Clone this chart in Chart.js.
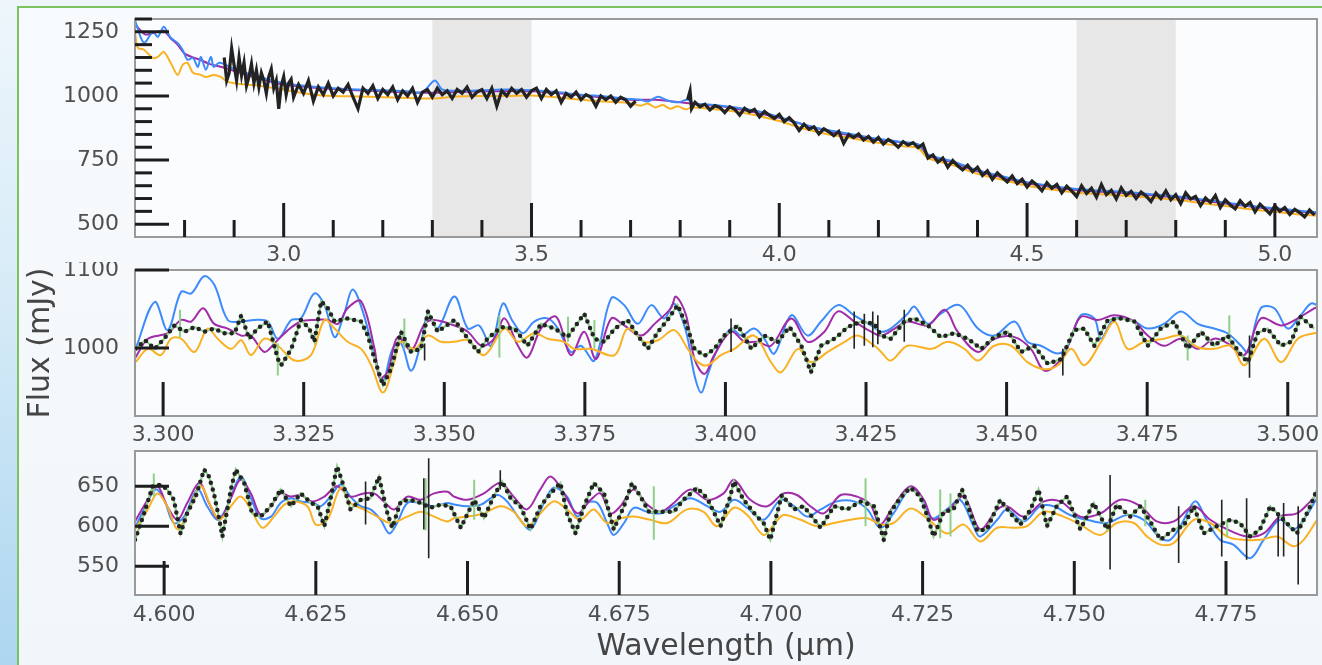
<!DOCTYPE html>
<html><head><meta charset="utf-8">
<script src="https://cdn.jsdelivr.net/npm/chart.js"></script>
<style>
html,body{margin:0;padding:0;}
body{width:1322px;height:665px;overflow:hidden;position:relative;background:linear-gradient(180deg,#eef6fb 0%,#d6ebf7 45%,#acd6f0 100%);}
#frame{position:absolute;left:17px;top:6px;width:1400px;height:700px;border:2px solid #7cc25e;background:linear-gradient(180deg,#f8fbfd,#f1f6fa);box-sizing:border-box;}
canvas{position:absolute;left:0;}
</style></head><body>
<div id="frame"></div>
<canvas id="c1" width="1322" height="268" style="top:0px"></canvas>
<canvas id="c2" width="1322" height="192" style="top:262px"></canvas>
<canvas id="c3" width="1322" height="220" style="top:445px"></canvas>
<script>
// ---------------- DATA ----------------
// Panel 1 (full spectrum)
const shaded1 = [[3.3, 3.5], [4.6, 4.8]];
const x1Ticks = [3.0, 3.5, 4.0, 4.5, 5.0];
const x1Minor = [2.8, 2.9, 3.1, 3.2, 3.3, 3.4, 3.6, 3.7, 3.8, 3.9, 4.1, 4.2, 4.3, 4.4, 4.6, 4.7, 4.8, 4.9];
const y1Ticks = [500, 750, 1000, 1250];
const y1Minor = [550, 600, 650, 700, 800, 850, 900, 950, 1050, 1100, 1150, 1200, 1300];

const blue1 = [[2.70,1295],[2.718,1207],[2.736,1250],[2.746,1230],[2.758,1270],[2.772,1227],[2.786,1207],[2.796,1180],[2.806,1141],[2.817,1148],[2.827,1113],[2.833,1152],[2.843,1102],[2.853,1152],[2.859,1113],[2.869,1129],[2.879,1125],[2.90,1105],[2.95,1075],[3.00,1050],[3.05,1038],[3.10,1030],[3.15,1025],[3.20,1022],[3.25,1018],[3.28,1015],[3.305,1060],[3.32,1025],[3.35,1020],[3.40,1022],[3.45,1025],[3.50,1022],[3.55,1015],[3.60,1005],[3.65,998],[3.70,988],[3.72,985],[3.735,978],[3.755,997],[3.775,982],[3.795,975],[3.815,985],[3.83,968],[3.85,968],[3.90,958],[3.95,943],[4.00,918],[4.05,888],[4.10,866],[4.15,850],[4.20,833],[4.25,820],[4.28,812],[4.30,772],[4.35,745],[4.40,710],[4.45,687],[4.50,664],[4.55,649],[4.60,637],[4.65,631],[4.70,625],[4.75,617],[4.80,609],[4.85,597],[4.90,585],[4.95,572],[5.00,562],[5.05,552],[5.085,547]];
const purple1 = [[2.70,1280],[2.72,1240],[2.736,1245],[2.746,1250],[2.758,1255],[2.772,1225],[2.786,1200],[2.80,1165],[2.817,1150],[2.833,1140],[2.85,1125],[2.88,1110],[2.95,1068],[3.00,1045],[3.10,1027],[3.20,1018],[3.30,1012],[3.40,1018],[3.50,1018],[3.60,1002],[3.70,985],[3.75,985],[3.80,975],[3.85,965],[3.90,955],[4.00,915],[4.10,862],[4.20,828],[4.28,808],[4.30,768],[4.35,741],[4.40,706],[4.45,683],[4.50,660],[4.60,633],[4.70,621],[4.80,605],[4.90,581],[5.00,558],[5.085,543]];
const orange1 = [[2.70,1246],[2.706,1187],[2.718,1180],[2.736,1148],[2.746,1152],[2.758,1172],[2.772,1129],[2.786,1082],[2.796,1121],[2.806,1129],[2.817,1090],[2.833,1082],[2.843,1074],[2.859,1082],[2.873,1074],[2.887,1055],[2.92,1045],[2.95,1040],[3.00,1025],[3.05,1008],[3.10,1000],[3.15,998],[3.20,995],[3.25,992],[3.30,990],[3.35,998],[3.40,1000],[3.45,1000],[3.50,1002],[3.55,995],[3.60,985],[3.65,978],[3.70,972],[3.72,962],[3.735,970],[3.75,955],[3.765,965],[3.78,950],[3.795,960],[3.81,948],[3.825,955],[3.85,952],[3.90,942],[3.95,926],[4.00,902],[4.05,872],[4.10,850],[4.15,834],[4.20,817],[4.25,804],[4.28,797],[4.30,758],[4.35,731],[4.40,696],[4.45,673],[4.50,650],[4.55,635],[4.60,623],[4.65,617],[4.70,611],[4.75,603],[4.80,595],[4.85,583],[4.90,571],[4.95,558],[5.00,548],[5.05,538],[5.085,533]];
const black1a = [[2.88,1150],[2.885,1060],[2.89,1090],[2.895,1185],[2.90,1120],[2.905,1060],[2.91,1150],[2.915,1080],[2.92,1130],[2.925,1040],[2.93,1075],[2.935,1125],[2.94,1050],[2.945,1100],[2.95,1035],[2.955,1090],[2.96,1060],[2.965,1010],[2.97,1075],[2.975,1105],[2.98,1030],[2.985,1060],[2.99,950],[2.995,1040],[3.00,1075],[3.005,1005],[3.01,1050],[3.015,1065],[3.02,995],[3.03,1045],[3.04,1010],[3.05,1060],[3.06,980],[3.07,1035],[3.08,1005],[3.09,1050],[3.10,1000],[3.11,1030],[3.12,1015],[3.13,1045],[3.14,995],[3.15,950],[3.16,1030],[3.17,1010],[3.18,1040],[3.19,990],[3.20,1025],[3.21,1005],[3.22,1035],[3.23,985],[3.24,1020],[3.25,1000],[3.26,1030],[3.27,975],[3.28,1015],[3.29,1025],[3.30,995],[3.31,1030],[3.32,1005],[3.33,1020],[3.34,990],[3.35,1025],[3.36,1010],[3.37,1035],[3.38,995],[3.39,1015],[3.40,1025],[3.41,990],[3.42,1030],[3.43,960],[3.44,1020],[3.45,1000],[3.46,1030],[3.47,1010],[3.48,1025],[3.49,995],[3.50,1020],[3.51,1030],[3.52,990],[3.53,1025],[3.54,1005],[3.55,1020],[3.56,975],[3.57,1010],[3.58,995],[3.59,1015],[3.60,985],[3.61,1005],[3.62,995],[3.63,960],[3.64,1000],[3.65,985],[3.66,1000],[3.67,975],[3.68,995],[3.69,985],[3.70,960],[3.71,980]];
const black1b = [[3.815,985],[3.82,1020],[3.823,950],[3.83,975],[3.84,958],[3.85,968],[3.86,945],[3.87,962],[3.88,955],[3.89,935],[3.90,958],[3.91,948],[3.92,925],[3.93,952],[3.94,938],[3.95,948],[3.96,918],[3.97,940],[3.98,925],[3.99,912],[4.00,928],[4.01,900],[4.02,915],[4.03,895],[4.04,865],[4.05,890],[4.06,870],[4.07,880],[4.08,852],[4.09,872],[4.10,860],[4.11,845],[4.12,862],[4.13,815],[4.14,850],[4.15,838],[4.16,852],[4.17,828],[4.18,842],[4.19,820],[4.20,838],[4.21,812],[4.22,830],[4.23,818],[4.24,800],[4.25,822],[4.26,808],[4.27,818],[4.28,798],[4.29,812],[4.30,758],[4.31,770],[4.32,742],[4.33,758],[4.34,722],[4.35,748],[4.36,728],[4.37,712],[4.38,730],[4.39,705],[4.40,722],[4.41,690],[4.42,708],[4.43,675],[4.44,700],[4.45,682],[4.46,665],[4.47,688],[4.48,658],[4.49,675],[4.50,645],[4.51,668],[4.52,652],[4.53,630],[4.54,662],[4.55,640],[4.56,655],[4.57,622],[4.58,648],[4.59,630],[4.60,608],[4.61,650],[4.62,620],[4.63,640],[4.64,605],[4.65,655],[4.66,615],[4.67,632],[4.68,598],[4.69,642],[4.70,612],[4.71,628],[4.72,600],[4.73,625],[4.74,610],[4.75,588],[4.76,622],[4.77,600],[4.78,630],[4.79,595],[4.80,615],[4.81,580],[4.82,622],[4.83,598],[4.84,608],[4.85,572],[4.86,602],[4.87,585],[4.88,612],[4.89,565],[4.90,595],[4.91,575],[4.92,560],[4.93,592],[4.94,570],[4.95,585],[4.96,548],[4.97,578],[4.98,560],[4.99,540],[5.00,572],[5.01,550],[5.02,565],[5.03,538],[5.04,558],[5.05,545],[5.06,528],[5.07,555],[5.08,535]];

// Panel 2 (3.30 - 3.50 um)
const x2Ticks = [3.300, 3.325, 3.350, 3.375, 3.400, 3.425, 3.450, 3.475, 3.500];
const y2Ticks = [1000, 1100];
const blue2 = [[3.2951,999],[3.2985,1059],[3.3008,1023],[3.3032,1072],[3.3050,1070],[3.3073,1092],[3.3091,1081],[3.3115,1036],[3.3139,1034],[3.3162,1036],[3.3186,1034],[3.3204,1012],[3.3228,1036],[3.3245,1038],[3.3269,1070],[3.3287,1055],[3.3305,1014],[3.3322,1044],[3.3337,1075],[3.3355,1047],[3.3376,990],[3.3391,958],[3.3408,999],[3.3423,1006],[3.3441,971],[3.3459,1008],[3.3471,1044],[3.3488,1025],[3.3518,1066],[3.3542,1025],[3.3562,1029],[3.3583,1003],[3.3604,1057],[3.3622,1034],[3.3640,1019],[3.3660,1034],[3.3684,1038],[3.3702,1025],[3.3725,995],[3.3743,1003],[3.3767,984],[3.3797,1064],[3.3820,1055],[3.3844,1031],[3.3868,1055],[3.3891,1038],[3.3909,1057],[3.3930,1021],[3.3945,965],[3.3957,943],[3.3968,965],[3.3986,999],[3.4010,1025],[3.4028,1016],[3.4051,1025],[3.4069,1012],[3.4087,993],[3.4117,1042],[3.4146,1016],[3.4170,1034],[3.4200,1055],[3.4229,1042],[3.4259,1029],[3.4277,1021],[3.4294,1025],[3.4324,1044],[3.4336,1053],[3.4360,1031],[3.4383,1044],[3.4416,1055],[3.4449,1025],[3.4478,1016],[3.4514,1034],[3.4537,1008],[3.4561,1003],[3.4591,993],[3.4609,1003],[3.4632,1042],[3.4656,1038],[3.4668,1012],[3.4692,1038],[3.4727,1034],[3.4751,1025],[3.4780,1031],[3.4810,1047],[3.4840,1031],[3.4869,1025],[3.4893,1019],[3.4917,1003],[3.4929,995],[3.4952,1051],[3.4976,1051],[3.5000,1025],[3.5023,1042],[3.5041,1057],[3.5053,1055]];
const purple2 = [[3.2951,988],[3.2973,1012],[3.3008,1019],[3.3032,1036],[3.3050,1034],[3.3071,1051],[3.3091,1031],[3.3115,1025],[3.3139,1016],[3.3156,1016],[3.3180,995],[3.3198,1006],[3.3222,1023],[3.3245,1034],[3.3269,1036],[3.3293,1036],[3.3311,1031],[3.3328,1051],[3.3352,1060],[3.3376,999],[3.3385,962],[3.3399,969],[3.3417,1014],[3.3441,997],[3.3465,1031],[3.3482,1036],[3.3518,1029],[3.3542,1021],[3.3566,1003],[3.3589,1012],[3.3607,1038],[3.3631,1003],[3.3648,988],[3.3672,1025],[3.3699,1040],[3.3725,991],[3.3749,1021],[3.3770,986],[3.3797,1038],[3.3820,1029],[3.3850,1016],[3.3874,1031],[3.3903,1051],[3.3912,1066],[3.3930,1042],[3.3945,986],[3.3963,967],[3.3980,991],[3.4010,1021],[3.4034,1008],[3.4057,1008],[3.4081,1003],[3.4117,1038],[3.4146,1008],[3.4176,1021],[3.4200,1047],[3.4229,1034],[3.4259,1021],[3.4277,1016],[3.4301,1025],[3.4324,1034],[3.4360,1029],[3.4390,1049],[3.4413,1021],[3.4449,995],[3.4478,1012],[3.4514,1014],[3.4543,999],[3.4567,971],[3.4591,981],[3.4609,1003],[3.4632,1040],[3.4662,1036],[3.4692,1042],[3.4727,1034],[3.4751,1016],[3.4780,1003],[3.4810,1012],[3.4840,999],[3.4869,1012],[3.4893,1006],[3.4923,991],[3.4952,1038],[3.4988,1029],[3.5018,1038],[3.5047,1051],[3.5053,1052]];
const orange2 = [[3.2951,982],[3.2973,999],[3.2996,991],[3.3014,1012],[3.3032,1012],[3.3056,995],[3.3079,1025],[3.3097,1012],[3.3121,999],[3.3139,1010],[3.3156,991],[3.3180,1012],[3.3204,1003],[3.3234,984],[3.3263,991],[3.3287,1036],[3.3305,1025],[3.3328,1008],[3.3352,999],[3.3370,978],[3.3391,943],[3.3411,982],[3.3423,1008],[3.3447,999],[3.3471,1016],[3.3494,1008],[3.3518,1008],[3.3542,1010],[3.3571,991],[3.3607,1025],[3.3631,1008],[3.3660,1019],[3.3684,1012],[3.3713,1008],[3.3731,999],[3.3761,999],[3.3803,991],[3.3826,1025],[3.3856,1008],[3.3880,1010],[3.3909,1023],[3.3933,999],[3.3951,982],[3.3968,978],[3.3992,991],[3.4016,999],[3.4051,1016],[3.4081,982],[3.4099,969],[3.4129,999],[3.4152,982],[3.4182,995],[3.4212,1008],[3.4235,1016],[3.4265,1003],[3.4277,995],[3.4294,984],[3.4324,1003],[3.4366,999],[3.4396,1008],[3.4425,999],[3.4449,984],[3.4478,1003],[3.4508,1003],[3.4537,982],[3.4567,973],[3.4591,978],[3.4615,999],[3.4638,978],[3.4668,1008],[3.4692,1034],[3.4715,999],[3.4745,1008],[3.4780,1012],[3.4810,1016],[3.4840,1001],[3.4869,999],[3.4899,1003],[3.4923,978],[3.4958,1012],[3.4988,982],[3.5018,1012],[3.5047,1019],[3.5053,1019]];
const data2 = [[3.2951,999],[3.2968,1010],[3.2985,999],[3.3002,1012],[3.3020,1029],[3.3038,1021],[3.3056,1027],[3.3073,1021],[3.3091,1025],[3.3109,1019],[3.3127,1019],[3.3139,1042],[3.3153,1012],[3.3168,1025],[3.3186,1034],[3.3204,986],[3.3210,978],[3.3228,999],[3.3245,1036],[3.3260,1025],[3.3269,1008],[3.3281,1060],[3.3293,1051],[3.3305,1034],[3.3328,1038],[3.3352,1034],[3.3364,1016],[3.3376,986],[3.3391,952],[3.3405,973],[3.3423,1021],[3.3441,995],[3.3459,999],[3.3471,1047],[3.3488,1021],[3.3518,1036],[3.3542,1012],[3.3560,995],[3.3577,1012],[3.3601,1027],[3.3625,1025],[3.3648,1003],[3.3672,1031],[3.3696,1025],[3.3719,1014],[3.3749,1044],[3.3767,1012],[3.3785,1008],[3.3803,1025],[3.3826,1036],[3.3844,1016],[3.3862,999],[3.3880,1021],[3.3897,1036],[3.3915,1055],[3.3933,1025],[3.3945,999],[3.3963,990],[3.3980,999],[3.3998,1016],[3.4022,1029],[3.4046,999],[3.4069,1016],[3.4093,1008],[3.4114,1027],[3.4135,1003],[3.4152,969],[3.4170,1003],[3.4194,1012],[3.4218,1027],[3.4241,1034],[3.4265,1031],[3.4277,1016],[3.4294,1012],[3.4318,1034],[3.4336,1038],[3.4360,1029],[3.4383,1014],[3.4407,1019],[3.4431,1012],[3.4455,999],[3.4478,1014],[3.4502,1021],[3.4526,995],[3.4549,1003],[3.4573,980],[3.4597,986],[3.4620,1023],[3.4638,1025],[3.4656,1003],[3.4680,1036],[3.4703,1038],[3.4727,1034],[3.4751,1003],[3.4774,1025],[3.4798,1034],[3.4822,999],[3.4846,1021],[3.4869,1003],[3.4893,1016],[3.4917,991],[3.4929,982],[3.4946,1019],[3.4964,1025],[3.4988,1003],[3.5006,1008],[3.5023,1040],[3.5047,1025]];
const err2Black = [[3.3465,984,1006],[3.4010,995,1038],[3.4229,999,1047],[3.4247,1003,1044],[3.4262,1001,1047],[3.4271,1005,1042],[3.4318,1008,1049],[3.4600,965,999],[3.4932,962,1016]];
const err2Green = [[3.3030,1014,1049],[3.3204,965,1006],[3.3429,999,1038],[3.3598,988,1042],[3.3720,1008,1040],[3.3767,999,1036],[3.4822,984,1016],[3.4896,1008,1042]];

// Panel 3 (4.60 - 4.79 um)
const x3Ticks = [4.600, 4.625, 4.650, 4.675, 4.700, 4.725, 4.750, 4.775];
const y3Ticks = [550, 600, 650];
const blue3 = [[4.5952,598],[4.5967,621],[4.5986,646],[4.6000,633],[4.6016,604],[4.6033,612],[4.6055,646],[4.6071,625],[4.6088,608],[4.6104,625],[4.6126,662],[4.6143,635],[4.6159,610],[4.6176,612],[4.6192,629],[4.6209,635],[4.6225,631],[4.6247,629],[4.6258,625],[4.6274,637],[4.6291,652],[4.6307,637],[4.6324,625],[4.6340,621],[4.6357,608],[4.6371,591],[4.6384,604],[4.6401,629],[4.6423,629],[4.6445,625],[4.6467,629],[4.6478,627],[4.6500,625],[4.6522,627],[4.6549,639],[4.6565,631],[4.6587,608],[4.6604,596],[4.6626,629],[4.6642,648],[4.6664,637],[4.6681,612],[4.6697,629],[4.6714,629],[4.6730,604],[4.6741,589],[4.6758,604],[4.6774,623],[4.6796,618],[4.6818,616],[4.6840,625],[4.6867,635],[4.6895,625],[4.6917,618],[4.6939,633],[4.6961,623],[4.6988,608],[4.7016,633],[4.7038,625],[4.7060,612],[4.7082,621],[4.7109,631],[4.7137,631],[4.7159,621],[4.7180,598],[4.7202,616],[4.7230,648],[4.7246,637],[4.7265,610],[4.7290,621],[4.7312,633],[4.7334,600],[4.7345,587],[4.7373,608],[4.7389,621],[4.7417,606],[4.7444,625],[4.7466,625],[4.7493,614],[4.7521,608],[4.7554,604],[4.7587,614],[4.7614,608],[4.7642,585],[4.7658,583],[4.7675,600],[4.7699,631],[4.7718,608],[4.7740,583],[4.7762,577],[4.7790,560],[4.7812,583],[4.7839,608],[4.7861,596],[4.7878,608],[4.7900,635]];
const purple3 = [[4.5952,606],[4.5973,633],[4.5989,650],[4.6005,625],[4.6022,608],[4.6038,629],[4.6058,654],[4.6074,629],[4.6091,608],[4.6110,635],[4.6126,658],[4.6143,641],[4.6159,614],[4.6176,625],[4.6192,641],[4.6209,637],[4.6225,639],[4.6244,631],[4.6264,637],[4.6285,650],[4.6307,637],[4.6329,641],[4.6346,641],[4.6362,631],[4.6379,621],[4.6401,637],[4.6423,633],[4.6445,641],[4.6467,643],[4.6478,637],[4.6500,633],[4.6527,641],[4.6554,654],[4.6576,637],[4.6598,621],[4.6620,646],[4.6637,662],[4.6659,641],[4.6681,616],[4.6703,633],[4.6719,641],[4.6736,616],[4.6752,625],[4.6774,646],[4.6796,627],[4.6818,618],[4.6840,629],[4.6867,646],[4.6895,633],[4.6922,641],[4.6939,658],[4.6966,633],[4.6994,625],[4.7021,641],[4.7043,639],[4.7065,625],[4.7087,616],[4.7115,639],[4.7142,637],[4.7164,627],[4.7180,602],[4.7202,625],[4.7230,650],[4.7252,633],[4.7268,608],[4.7296,623],[4.7318,637],[4.7345,596],[4.7373,621],[4.7389,625],[4.7417,612],[4.7450,631],[4.7477,631],[4.7510,612],[4.7543,616],[4.7576,633],[4.7609,625],[4.7636,606],[4.7664,606],[4.7697,625],[4.7724,608],[4.7752,596],[4.7785,587],[4.7812,591],[4.7839,612],[4.7867,616],[4.7889,631],[4.7900,640]];
const orange3 = [[4.5952,596],[4.5973,621],[4.5989,641],[4.6005,625],[4.6022,596],[4.6038,616],[4.6060,650],[4.6077,625],[4.6091,608],[4.6110,625],[4.6126,637],[4.6143,621],[4.6162,598],[4.6181,612],[4.6198,627],[4.6214,631],[4.6236,625],[4.6250,602],[4.6269,608],[4.6291,648],[4.6307,629],[4.6329,621],[4.6351,612],[4.6373,604],[4.6401,612],[4.6423,618],[4.6445,612],[4.6467,606],[4.6478,610],[4.6500,612],[4.6527,616],[4.6554,625],[4.6576,618],[4.6598,600],[4.6620,616],[4.6642,631],[4.6664,621],[4.6686,608],[4.6708,621],[4.6730,604],[4.6752,610],[4.6774,612],[4.6801,608],[4.6829,604],[4.6862,621],[4.6889,618],[4.6911,600],[4.6939,623],[4.6961,614],[4.6988,589],[4.7005,602],[4.7021,614],[4.7049,608],[4.7076,600],[4.7104,604],[4.7131,608],[4.7159,610],[4.7181,602],[4.7202,604],[4.7230,622],[4.7257,610],[4.7290,591],[4.7318,602],[4.7345,581],[4.7373,598],[4.7400,598],[4.7422,600],[4.7450,618],[4.7482,612],[4.7510,602],[4.7543,589],[4.7570,604],[4.7598,604],[4.7620,587],[4.7642,577],[4.7664,579],[4.7697,608],[4.7724,604],[4.7752,587],[4.7779,583],[4.7806,583],[4.7834,587],[4.7861,575],[4.7878,583],[4.7900,608]];
const data3 = [[4.5952,583],[4.5967,616],[4.5981,650],[4.5995,652],[4.6005,646],[4.6016,633],[4.6027,591],[4.6038,616],[4.6052,637],[4.6066,671],[4.6074,662],[4.6082,641],[4.6091,608],[4.6096,587],[4.6110,646],[4.6118,671],[4.6132,654],[4.6145,616],[4.6159,612],[4.6176,625],[4.6192,646],[4.6209,625],[4.6225,641],[4.6242,629],[4.6253,625],[4.6264,600],[4.6274,633],[4.6285,675],[4.6296,650],[4.6307,621],[4.6324,633],[4.6340,635],[4.6354,662],[4.6368,616],[4.6376,598],[4.6390,631],[4.6406,633],[4.6423,629],[4.6439,623],[4.6456,627],[4.6472,625],[4.6489,598],[4.6511,633],[4.6527,610],[4.6543,637],[4.6557,656],[4.6571,635],[4.6587,625],[4.6604,596],[4.6620,625],[4.6637,641],[4.6653,654],[4.6664,616],[4.6678,591],[4.6692,625],[4.6708,654],[4.6725,641],[4.6741,596],[4.6758,625],[4.6771,654],[4.6785,637],[4.6799,618],[4.6818,618],[4.6840,618],[4.6856,633],[4.6878,648],[4.6895,635],[4.6917,600],[4.6933,637],[4.6939,656],[4.6955,633],[4.6977,612],[4.6988,604],[4.6999,583],[4.7018,639],[4.7038,621],[4.7054,625],[4.7082,598],[4.7104,625],[4.7126,621],[4.7148,631],[4.7170,625],[4.7186,583],[4.7197,618],[4.7213,635],[4.7230,648],[4.7246,637],[4.7260,608],[4.7268,587],[4.7285,618],[4.7301,621],[4.7315,646],[4.7329,616],[4.7340,594],[4.7356,596],[4.7378,633],[4.7395,616],[4.7411,602],[4.7428,621],[4.7441,646],[4.7455,600],[4.7471,625],[4.7488,637],[4.7510,596],[4.7532,629],[4.7554,596],[4.7570,627],[4.7592,612],[4.7609,625],[4.7625,606],[4.7642,583],[4.7664,596],[4.7680,600],[4.7697,625],[4.7713,591],[4.7735,600],[4.7757,608],[4.7773,604],[4.7790,587],[4.7806,596],[4.7823,625],[4.7845,608],[4.7867,591],[4.7889,625],[4.7900,646]];
const err3Black = [[4.6332,602,656],[4.6428,596,660],[4.6436,560,685],[4.6554,646,670],[4.7559,546,664],[4.7672,554,625],[4.7743,562,633],[4.7784,558,635],[4.7836,562,616],[4.7845,562,629],[4.7869,527,625]];
const err3Green = [[4.5983,637,666],[4.6431,595,660],[4.6511,608,658],[4.6807,583,650],[4.7156,600,660],[4.7279,585,646],[4.7296,587,641],[4.7617,600,633],[4.7752,587,608]];

// ---------------- STYLE ----------------
const FONT = 'DejaVu Sans';
const TICK_COLOR = '#4f4f4f';
const C_BLUE = '#3d8bfb', C_PURPLE = '#a02ca8', C_ORANGE = '#f8b224', C_GREEN = '#8fd08a', C_BLACK = '#232323';

const pts = arr => arr.map(([x, y]) => ({x, y}));
const errPts = arr => arr.flatMap(([x, lo, hi]) => [{x, y: lo}, {x, y: hi}, {x, y: null}]);

function lineDs(arr, color, width, order, extra) {
  return Object.assign({type: 'line', data: pts(arr), borderColor: color, borderWidth: width,
    pointRadius: 0, fill: false, order: order, tension: 0}, extra || {});
}
function errDs(arr, color, width, order) {
  return {type: 'line', data: errPts(arr), borderColor: color, borderWidth: width,
    pointRadius: 0, fill: false, order: order, spanGaps: false, tension: 0};
}

function makeFrame(cfg) {
  return {
    id: 'frameTicks',
    beforeDatasetsDraw(chart) {
      const {ctx, chartArea: a, scales: {x}} = chart;
      ctx.save();
      ctx.fillStyle = '#fbfcfe';
      ctx.fillRect(a.left, a.top, a.width, a.height);
      (cfg.bands || []).forEach(([lo, hi]) => {
        const x0 = x.getPixelForValue(lo), x1 = x.getPixelForValue(hi);
        ctx.fillStyle = '#e7e7e8';
        ctx.fillRect(x0, a.top, x1 - x0, a.height);
      });
      ctx.restore();
    },
    afterDatasetsDraw(chart) {
      const {ctx, chartArea: a, scales: {x, y}} = chart;
      ctx.save();
      ctx.strokeStyle = '#9a9a9a';
      ctx.lineWidth = 2;
      ctx.strokeRect(a.left, a.top, a.width, a.height);
      ctx.strokeStyle = '#1e1e1e';
      ctx.lineWidth = 3;
      const MAJ = 34, MIN = 17;
      const xt = (vals, len) => vals.forEach(v => {
        const p = x.getPixelForValue(v);
        ctx.beginPath(); ctx.moveTo(p, a.bottom); ctx.lineTo(p, a.bottom - len); ctx.stroke();
      });
      const yt = (vals, len) => vals.forEach(v => {
        const p = y.getPixelForValue(v);
        ctx.beginPath(); ctx.moveTo(a.left, p); ctx.lineTo(a.left + len, p); ctx.stroke();
      });
      xt(cfg.xMajor || [], MAJ); xt(cfg.xMinor || [], MIN);
      yt(cfg.yMajor || [], MAJ); yt(cfg.yMinor || [], MIN);
      ctx.restore();
    }
  };
}

function panel(id, o) {
  return new Chart(document.getElementById(id), {
    type: 'line',
    data: {datasets: o.datasets},
    options: {
      responsive: false, animation: false, events: [],
      layout: {padding: {top: o.padTop, right: 5, left: 0, bottom: 0}},
      plugins: {legend: {display: false}, tooltip: {enabled: false}},
      scales: {
        x: {type: 'linear', min: o.xMin, max: o.xMax,
          grid: {display: false}, border: {display: false},
          title: o.xTitle || {display: false},
          ticks: {autoSkip: false, maxRotation: 0, padding: o.xPad, color: TICK_COLOR,
            font: {family: FONT, size: 22}, callback: v => Number(v).toFixed(o.xDec)},
          afterBuildTicks: ax => { ax.ticks = o.xTicks.map(v => ({value: v})); },
          afterFit: ax => { ax.height = o.xHeight; ax.paddingLeft = 0; ax.paddingRight = 0; }},
        y: {type: 'linear', min: o.yMin, max: o.yMax,
          grid: {display: false}, border: {display: false},
          title: o.yTitle || {display: false},
          ticks: {autoSkip: false, padding: 8, color: TICK_COLOR,
            font: {family: FONT, size: 22}, callback: v => String(v)},
          afterBuildTicks: ax => { ax.ticks = o.yTicks.map(v => ({value: v})); },
          afterFit: ax => { ax.width = 135; ax.paddingTop = 0; ax.paddingBottom = 0; }}
      }
    },
    plugins: [makeFrame(o.frame)]
  });
}

const titleFont = {family: FONT, size: 30};

panel('c1', {
  padTop: 19, xHeight: 31, xPad: -3, xDec: 1,
  xMin: 2.70, xMax: 5.085, yMin: 450, yMax: 1300,
  xTicks: x1Ticks, yTicks: y1Ticks,
  frame: {bands: shaded1, xMajor: x1Ticks, xMinor: x1Minor, yMajor: y1Ticks, yMinor: y1Minor},
  datasets: [
    lineDs(black1a, C_BLACK, 3.2, 0),
    lineDs(black1b, C_BLACK, 3.2, 0),
    lineDs(orange1, C_ORANGE, 2, 2, {tension: 0.3}),
    lineDs(blue1, C_BLUE, 2, 3, {tension: 0.3}),
    lineDs(purple1, C_PURPLE, 2, 4, {tension: 0.3})
  ]
});

panel('c2', {
  padTop: 8, xHeight: 38, xPad: -2, xDec: 3,
  xMin: 3.295, xMax: 3.5052, yMin: 913, yMax: 1100,
  xTicks: x2Ticks, yTicks: y2Ticks,
  yTitle: {display: true, text: 'Flux (mJy)', color: '#454545', font: titleFont, padding: {top: 23, bottom: 0}},
  frame: {xMajor: x2Ticks, yMajor: y2Ticks},
  datasets: [
    lineDs(data2, C_BLACK, 4.5, 0, {borderDash: [0, 7], borderCapStyle: 'round'}),
    errDs(err2Black, C_BLACK, 1.6, 1),
    errDs(err2Green, C_GREEN, 2, 1),
    lineDs(data2, C_GREEN, 2.2, 1),
    lineDs(orange2, C_ORANGE, 2, 2, {tension: 0.35}),
    lineDs(purple2, C_PURPLE, 2, 3, {tension: 0.35}),
    lineDs(blue2, C_BLUE, 2, 4, {tension: 0.35})
  ]
});

panel('c3', {
  padTop: 6, xHeight: 70, xPad: -1, xDec: 3,
  xMin: 4.5952, xMax: 4.790, yMin: 514, yMax: 694,
  xTicks: x3Ticks, yTicks: y3Ticks,
  xTitle: {display: true, text: 'Wavelength (μm)', color: '#454545', font: titleFont, padding: {top: 0, bottom: 0}},
  frame: {xMajor: x3Ticks, yMajor: y3Ticks},
  datasets: [
    lineDs(data3, C_BLACK, 4.5, 0, {borderDash: [0, 7], borderCapStyle: 'round'}),
    errDs(err3Black, C_BLACK, 1.6, 1),
    errDs(err3Green, C_GREEN, 2, 1),
    lineDs(data3, C_GREEN, 2.2, 1),
    lineDs(orange3, C_ORANGE, 2, 2, {tension: 0.35}),
    lineDs(purple3, C_PURPLE, 2, 3, {tension: 0.35}),
    lineDs(blue3, C_BLUE, 2, 4, {tension: 0.35})
  ]
});
</script>
</body></html>
